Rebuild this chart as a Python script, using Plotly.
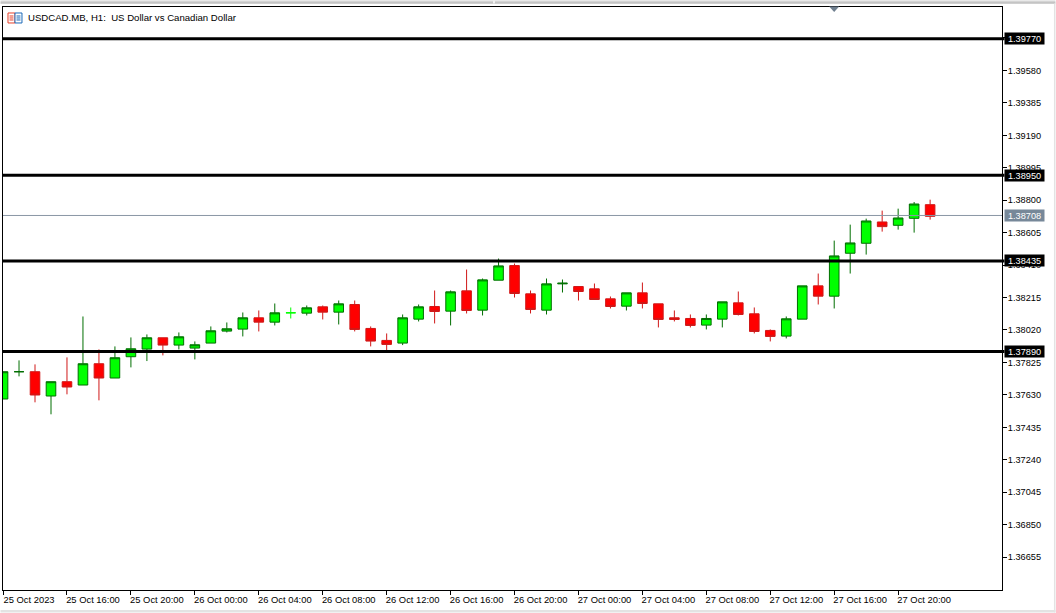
import pandas as pd
import plotly.graph_objects as go

# Hourly bars: 25 Oct 2023 12:00 onward
times = pd.date_range("2023-10-25 12:00", periods=59, freq="h")

opens = [1.37605,1.37769,1.37769,1.37623,1.37709,1.37689,1.37817,1.37731,1.37859,1.37905,
         1.37973,1.37929,1.37911,1.37941,1.38013,1.38025,1.38093,1.38067,1.38123,1.38121,
         1.38159,1.38127,1.38173,1.38029,1.37957,1.37941,1.38085,1.38161,1.38133,1.38255,
         1.38139,1.38319,1.38407,1.38237,1.38139,1.38297,1.38281,1.38267,1.38207,1.38163,
         1.38243,1.38177,1.38093,1.38089,1.38049,1.38085,1.38183,1.38117,1.38017,1.37983,
         1.38085,1.38285,1.38223,1.38481,1.38541,1.38669,1.38649,1.38691,1.38773]
highs = [1.37769,1.37837,1.37813,1.37709,1.37855,1.38101,1.37903,1.37921,1.37975,1.37993,
         1.37973,1.38005,1.37951,1.38041,1.38065,1.38125,1.38137,1.38179,1.38155,1.38167,
         1.38167,1.38197,1.38197,1.38041,1.37999,1.38113,1.38173,1.38257,1.38257,1.38383,
         1.38329,1.38449,1.38419,1.38257,1.38329,1.38323,1.38281,1.38299,1.38221,1.38243,
         1.38305,1.38177,1.38137,1.38113,1.38113,1.38189,1.38251,1.38155,1.38023,1.38101,
         1.38285,1.38359,1.38557,1.38653,1.38689,1.38737,1.38749,1.38789,1.38803]
lows = [1.37605,1.37741,1.37585,1.37513,1.37633,1.37689,1.37597,1.37731,1.37795,1.37833,
        1.37867,1.37903,1.37843,1.37941,1.38005,1.37981,1.38011,1.38047,1.38089,1.38107,
        1.38083,1.38053,1.38011,1.37921,1.37897,1.37929,1.38071,1.38059,1.38047,1.38119,
        1.38107,1.38319,1.38215,1.38119,1.38113,1.38245,1.38197,1.38203,1.38149,1.38137,
        1.38149,1.38035,1.38071,1.38035,1.38023,1.38035,1.38107,1.37999,1.37951,1.37969,
        1.38085,1.38173,1.38149,1.38359,1.38473,1.38611,1.38623,1.38605,1.38683]
closes = [1.37769,1.37769,1.37629,1.37709,1.37677,1.37817,1.37731,1.37853,1.37907,1.37973,
          1.37929,1.37979,1.37931,1.38015,1.38027,1.38093,1.38067,1.38123,1.38123,1.38153,
          1.38127,1.38177,1.38023,1.37953,1.37933,1.38093,1.38159,1.38131,1.38249,1.38137,
          1.38321,1.38405,1.38239,1.38143,1.38297,1.38301,1.38251,1.38203,1.38161,1.38243,
          1.38179,1.38083,1.38083,1.38047,1.38089,1.38189,1.38113,1.38011,1.37981,1.38087,
          1.38285,1.38223,1.38465,1.38543,1.38675,1.38641,1.38693,1.38777,1.38703]
bright_doji_index = 18

y_tick_values = [1.39775,1.39580,1.39385,1.39190,1.38995,1.38800,1.38605,1.38410,1.38215,
                 1.38020,1.37825,1.37630,1.37435,1.37240,1.37045,1.36850,1.36655]
x_tick_times = ["2023-10-25 12:00","2023-10-25 16:00","2023-10-25 20:00","2023-10-26 00:00",
                "2023-10-26 04:00","2023-10-26 08:00","2023-10-26 12:00","2023-10-26 16:00",
                "2023-10-26 20:00","2023-10-27 00:00","2023-10-27 04:00","2023-10-27 08:00",
                "2023-10-27 12:00","2023-10-27 16:00","2023-10-27 20:00"]
x_tick_labels = ["25 Oct 2023","25 Oct 16:00","25 Oct 20:00","26 Oct 00:00","26 Oct 04:00",
                 "26 Oct 08:00","26 Oct 12:00","26 Oct 16:00","26 Oct 20:00","27 Oct 00:00",
                 "27 Oct 04:00","27 Oct 08:00","27 Oct 12:00","27 Oct 16:00","27 Oct 20:00"]
level_lines = [1.39770, 1.38950, 1.38435, 1.37890]
current_price = 1.38708
title_text = "USDCAD.MB, H1:  US Dollar vs Canadian Dollar"

W, H = 1056, 613
L, R, T, B = 2.5, 1002.5, 6.5, 590.5
FONT = "Liberation Sans, Arial, sans-serif"
GREEN_EDGE, GREEN_FILL = "#006e00", "#00ff00"
RED_EDGE, RED_FILL = "#d01818", "#ff0000"


def px(x):
    return (x - L) / (R - L)


def py(y):
    return (B - y) / (B - T)


def keep(seq, skip=True):
    return [None if (i == bright_doji_index) == skip else v for i, v in enumerate(seq)]


fig = go.Figure()
fig.add_trace(go.Candlestick(
    x=times, open=keep(opens), high=keep(highs), low=keep(lows), close=keep(closes),
    whiskerwidth=0, hoverinfo="skip",
    increasing=dict(line=dict(color=GREEN_EDGE, width=1), fillcolor=GREEN_FILL),
    decreasing=dict(line=dict(color=RED_EDGE, width=1), fillcolor=RED_FILL),
))
fig.add_trace(go.Candlestick(
    x=times, open=keep(opens, False), high=keep(highs, False), low=keep(lows, False),
    close=keep(closes, False), whiskerwidth=0, hoverinfo="skip",
    increasing=dict(line=dict(color=GREEN_FILL, width=1), fillcolor=GREEN_FILL),
    decreasing=dict(line=dict(color=GREEN_FILL, width=1), fillcolor=GREEN_FILL),
))

shapes = []
annotations = []
for lvl in level_lines:
    shapes.append(dict(type="line", xref="paper", yref="y", x0=0, x1=1.0025, y0=lvl, y1=lvl,
                       line=dict(color="#000000", width=3), layer="above"))
    annotations.append(dict(xref="paper", yref="y", x=px(1005), y=lvl, xanchor="left",
                            yanchor="middle", text=f"{lvl:.5f}", showarrow=False, width=39, height=11,
                            bgcolor="#000000", borderpad=0, align="center",
                            font=dict(family=FONT, size=9.2, color="#ffffff")))
shapes.append(dict(type="line", xref="paper", yref="y", x0=0, x1=1, y0=current_price, y1=current_price,
                   line=dict(color="#8a97a5", width=1), layer="above"))
annotations.append(dict(xref="paper", yref="y", x=px(1005), y=current_price, xanchor="left",
                        yanchor="middle", text=f"{current_price:.5f}", showarrow=False, width=39, height=11,
                        bgcolor="#778899", borderpad=0, align="center",
                        font=dict(family=FONT, size=9.2, color="#ffffff")))
annotations.append(dict(xref="paper", yref="paper", x=px(25.5), y=py(17.5), xanchor="left", yanchor="middle",
                        text=title_text, showarrow=False,
                        font=dict(family=FONT, size=9.6, color="#000000")))
# window chrome: top band, bottom and right edges
shapes.append(dict(type="rect", xref="paper", yref="paper", x0=px(0), x1=px(W), y0=py(2), y1=py(0),
                   fillcolor="#d4d4d4", line=dict(width=0)))
shapes.append(dict(type="rect", xref="paper", yref="paper", x0=px(0), x1=px(W), y0=py(3), y1=py(2),
                   fillcolor="#a0a0a0", line=dict(width=0)))
shapes.append(dict(type="rect", xref="paper", yref="paper", x0=px(493), x1=px(495), y0=py(3), y1=py(0),
                   fillcolor="#f0f0f0", line=dict(width=0)))
shapes.append(dict(type="rect", xref="paper", yref="paper", x0=px(0), x1=px(W), y0=py(613), y1=py(610.5),
                   fillcolor="#e3e3e3", line=dict(width=0)))
shapes.append(dict(type="rect", xref="paper", yref="paper", x0=px(1054.5), x1=px(W), y0=py(613), y1=py(3),
                   fillcolor="#e3e3e3", line=dict(width=0)))
# collapse marker on the top edge
shapes.append(dict(type="path", xref="paper", yref="paper", fillcolor="#6f7f8f", line=dict(width=0),
                   path=f"M {px(829.5)} {py(6)} L {px(839.5)} {py(6)} L {px(834.5)} {py(11.5)} Z"))
# chart-window icon
shapes.append(dict(type="rect", xref="paper", yref="paper", x0=px(7.5), x1=px(14.5), y0=py(22.5), y1=py(12.5),
                   line=dict(color="#e8402a", width=1), fillcolor="#ffffff"))
shapes.append(dict(type="rect", xref="paper", yref="paper", x0=px(14.5), x1=px(21.5), y0=py(22.5), y1=py(12.5),
                   line=dict(color="#1a68b8", width=1), fillcolor="#ffffff"))
for yy in (15.5, 17.5, 19.5):
    shapes.append(dict(type="line", xref="paper", yref="paper", x0=px(9), x1=px(13), y0=py(yy), y1=py(yy),
                       line=dict(color="#e8402a", width=1)))
    shapes.append(dict(type="line", xref="paper", yref="paper", x0=px(16), x1=px(20), y0=py(yy), y1=py(yy),
                       line=dict(color="#1a68b8", width=1)))

fig.update_layout(
    template="none",
    width=W, height=H, autosize=False,
    margin=dict(l=L, r=W - R, t=T, b=H - B, pad=0),
    paper_bgcolor="#ffffff", plot_bgcolor="#ffffff",
    showlegend=False, boxgap=0.4, boxgroupgap=0, boxmode="overlay",
    shapes=shapes, annotations=annotations,
    xaxis=dict(type="date", range=["2023-10-25 11:59:50", "2023-10-28 02:29:50"], automargin=False,
               rangeslider=dict(visible=False), showgrid=False, zeroline=False,
               showline=True, mirror=True, linecolor="#000000", linewidth=1,
               ticks="outside", ticklen=4, tickcolor="#000000", tickwidth=1,
               tickmode="array", tickvals=x_tick_times, ticktext=x_tick_labels, tickangle=0,
               ticklabelshift=26, ticklabelstandoff=-3,
               tickfont=dict(family=FONT, size=9.4, color="#000000")),
    yaxis=dict(side="right", range=[1.36457, 1.39961], showgrid=False, zeroline=False, automargin=False,
               showline=True, mirror=True, linecolor="#000000", linewidth=1,
               ticks="outside", ticklen=4, tickcolor="#000000", tickwidth=1,
               tickmode="array", tickvals=y_tick_values,
               ticktext=[f"{v:.5f}" for v in y_tick_values], ticklabelstandoff=-1,
               tickfont=dict(family=FONT, size=9.2, color="#000000")),
)

fig.write_html("out.html", post_script="document.body.style.margin='0';document.body.style.overflow='hidden';window.dispatchEvent(new Event('resize'));",
               config=dict(displayModeBar=False))
